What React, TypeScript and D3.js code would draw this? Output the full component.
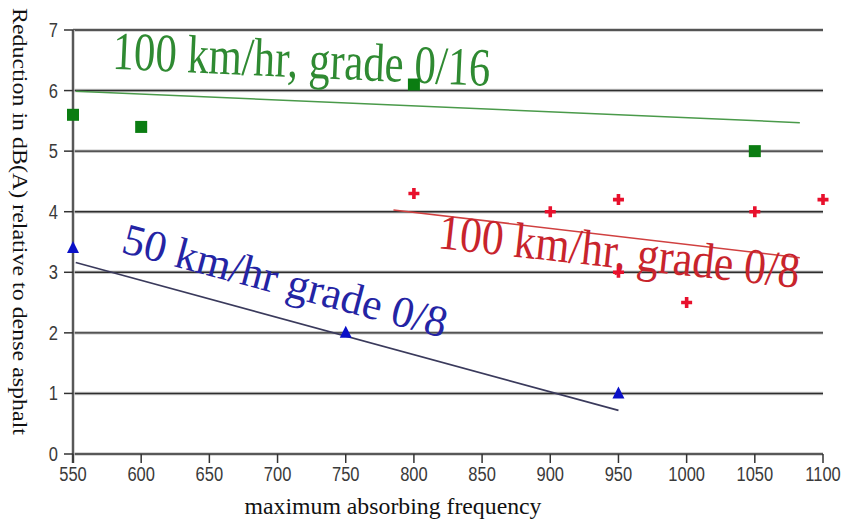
import React from "react";
import * as d3 from "d3";

const xTicks = [550, 600, 650, 700, 750, 800, 850, 900, 950, 1000, 1050, 1100];
const yTicks = [0, 1, 2, 3, 4, 5, 6, 7];

const greenFreq = [550, 600, 800, 1050];
const greenReduction = [5.6, 5.4, 6.1, 5.0];
const redFreq = [800, 900, 950, 950, 1000, 1050, 1100];
const redReduction = [4.3, 4.0, 4.2, 3.0, 2.5, 4.0, 4.2];
const blueFreq = [550, 750, 950];
const blueReduction = [3.4, 2.0, 1.0];

const greenTrendFreq = [552, 1083];
const greenTrendValue = [5.99, 5.47];
const redTrendFreq = [785, 1083];
const redTrendValue = [4.03, 3.24];
const blueTrendFreq = [552, 950];
const blueTrendValue = [3.16, 0.72];

const greenLabel = "100 km/hr, grade 0/16";
const redLabel = "100 km/hr, grade 0/8";
const blueLabel = "50 km/hr grade 0/8";
const xTitle = "maximum absorbing frequency";
const yTitle = "Reduction in dB(A) relative to dense asphalt";

const W = 844;
const H = 527;

export default function App() {
  const x = d3.scaleLinear().domain([550, 1100]).range([73, 823]);
  const y = d3.scaleLinear().domain([0, 7]).range([454, 30]);
  const line = d3
    .line<[number, number]>()
    .x((d) => x(d[0]))
    .y((d) => y(d[1]));
  const pairs = (a: number[], b: number[]) => a.map((v, i) => [v, b[i]] as [number, number]);

  const serif = "'Liberation Serif', 'Times New Roman', serif";
  const sans = "'Liberation Sans', Arial, sans-serif";

  const labels = [
    { text: greenLabel, f: 578.6, v: 6.36, angle: 2.6, size: 54, len: 378, color: "#2f8a32" },
    { text: redLabel, f: 816.9, v: 3.4, angle: 6.3, size: 50, len: 363, color: "#c8242c" },
    { text: blueLabel, f: 584.5, v: 3.335, angle: 14.9, size: 44, len: 334, color: "#2424a4" },
  ];

  return (
    <svg
      width={W}
      height={H}
      style={{ position: "absolute", left: 0, top: 0, background: "#fff" }}
    >
      {/* grid lines */}
      {yTicks.slice(1).map((t) => (
        <g key={"g" + t}>
          <line x1={x(550)} x2={x(1100)} y1={y(t)} y2={y(t)} stroke="#c8c8c8" strokeWidth={3.5} />
          <line x1={x(550)} x2={x(1100)} y1={y(t)} y2={y(t)} stroke="#2e2e2e" strokeWidth={1.4} />
        </g>
      ))}
      {/* x axis */}
      <line x1={x(550)} x2={x(1100)} y1={y(0)} y2={y(0)} stroke="#c8c8c8" strokeWidth={3.5} />
      <line x1={x(550)} x2={x(1100)} y1={y(0)} y2={y(0)} stroke="#333" strokeWidth={1.5} />
      {/* y axis */}
      <line x1={x(550)} x2={x(550)} y1={y(7)} y2={y(0) + 9} stroke="#c8c8c8" strokeWidth={3.5} />
      <line x1={x(550)} x2={x(550)} y1={y(7)} y2={y(0) + 9} stroke="#333" strokeWidth={1.5} />
      {xTicks.map((t) => (
        <g key={"xt" + t}>
          <line x1={x(t)} x2={x(t)} y1={y(0)} y2={y(0) + 9} stroke="#333" strokeWidth={1.5} />
          <text
            transform={`translate(${x(t)},${y(0) + 27}) scale(1,1.25)`}
            textAnchor="middle"
            fontFamily={sans}
            fontSize={16.5}
            fill="#3a3a3a"
          >
            {t}
          </text>
        </g>
      ))}
      {yTicks.map((t) => (
        <g key={"yt" + t}>
          <line x1={x(550) - 9} x2={x(550)} y1={y(t)} y2={y(t)} stroke="#333" strokeWidth={1.5} />
          <text
            transform={`translate(${x(550) - 15},${y(t) + 7}) scale(1,1.25)`}
            textAnchor="end"
            fontFamily={sans}
            fontSize={16.5}
            fill="#3a3a3a"
          >
            {t}
          </text>
        </g>
      ))}

      {/* trend lines */}
      <path d={line(pairs(greenTrendFreq, greenTrendValue)) || ""} stroke="#4a9a4a" strokeWidth={1.5} fill="none" />
      <path d={line(pairs(redTrendFreq, redTrendValue)) || ""} stroke="#d04040" strokeWidth={1.5} fill="none" />
      <path d={line(pairs(blueTrendFreq, blueTrendValue)) || ""} stroke="#3a3a5c" strokeWidth={1.6} fill="none" />

      {/* labels */}
      {labels.map((l) => (
        <text
          key={l.text}
          x={x(l.f)}
          y={y(l.v)}
          transform={`rotate(${l.angle},${x(l.f)},${y(l.v)})`}
          fontFamily={serif}
          fontSize={l.size}
          textLength={l.len}
          lengthAdjust="spacingAndGlyphs"
          fill={l.color}
        >
          {l.text}
        </text>
      ))}

      {/* markers */}
      {greenFreq.map((f, i) => (
        <rect
          key={"gm" + i}
          x={x(f) - 6}
          y={y(greenReduction[i]) - 6}
          width={12}
          height={12}
          fill="#0b7d12"
        />
      ))}
      {redFreq.map((f, i) => {
        const cx = x(f);
        const cy = y(redReduction[i]);
        return (
          <path
            key={"rm" + i}
            d={`M${cx - 5.5},${cy}H${cx + 5.5}M${cx},${cy - 5.5}V${cy + 5.5}`}
            stroke="#e8102c"
            strokeWidth={3.6}
          />
        );
      })}
      {blueFreq.map((f, i) => {
        const cx = x(f);
        const cy = y(blueReduction[i]);
        return (
          <path
            key={"bm" + i}
            d={`M${cx},${cy - 7}L${cx + 6},${cy + 5}L${cx - 6},${cy + 5}Z`}
            fill="#0a10c8"
          />
        );
      })}

      {/* axis titles */}
      <text
        x={393}
        y={514}
        textAnchor="middle"
        fontFamily={serif}
        fontSize={24}
        textLength={297}
        lengthAdjust="spacingAndGlyphs"
        fill="#111"
      >
        {xTitle}
      </text>
      <text
        transform={`translate(13,8) rotate(90)`}
        fontFamily={serif}
        fontSize={20}
        textLength={427}
        lengthAdjust="spacingAndGlyphs"
        fill="#111"
      >
        {yTitle}
      </text>
    </svg>
  );
}
